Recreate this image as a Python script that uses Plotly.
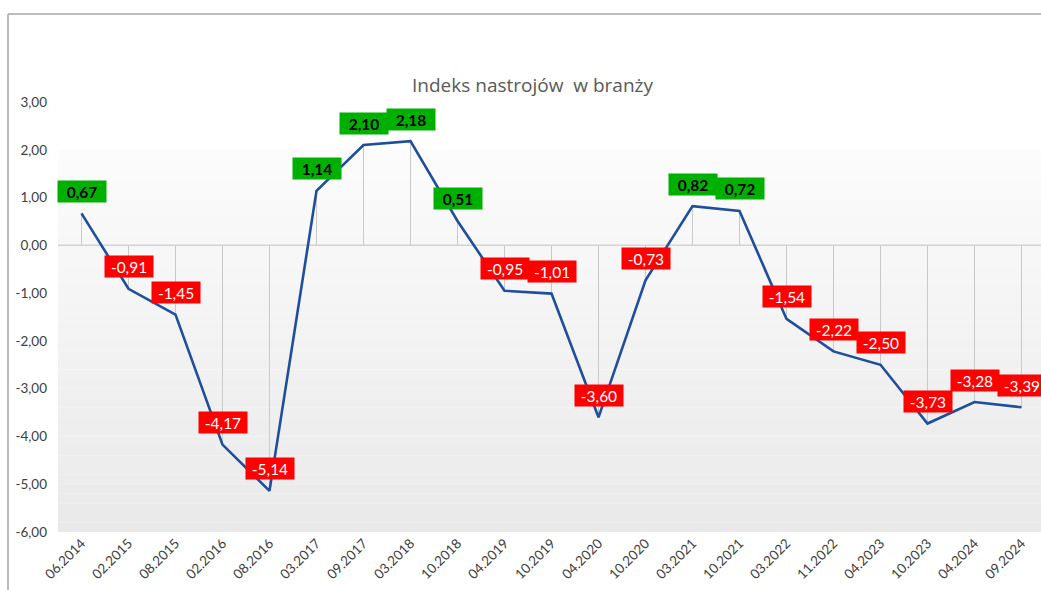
import plotly.graph_objects as go

categories = ["06.2014", "02.2015", "08.2015", "02.2016", "08.2016", "03.2017", "09.2017",
              "03.2018", "10.2018", "04.2019", "10.2019", "04.2020", "10.2020", "03.2021",
              "10.2021", "03.2022", "11.2022", "04.2023", "10.2023", "04.2024", "09.2024"]
values = [0.67, -0.91, -1.45, -4.17, -5.14, 1.14, 2.10, 2.18, 0.51, -0.95, -1.01, -3.60,
          -0.73, 0.82, 0.72, -1.54, -2.22, -2.50, -3.73, -3.28, -3.39]
y_ticks = [3, 2, 1, 0, -1, -2, -3, -4, -5, -6]
y_ticktext = ["3,00", "2,00", "1,00", "0,00", "-1,00", "-2,00", "-3,00", "-4,00", "-5,00", "-6,00"]
title_text = "Indeks nastrojów  w branży"

W, H = 1041, 590
ML, MR, MT, MB = 58, 0, 102, 58
plot_w = W - ML - MR
plot_h = H - MT - MB
step = 47.0
x_max = -0.5 + plot_w / step

fig = go.Figure()

# drop lines from each point to zero
dx, dy = [], []
for i, v in enumerate(values):
    dx += [i, i, None]
    dy += [0, v, None]
fig.add_trace(go.Scatter(x=dx, y=dy, mode="lines",
                         line=dict(color="#C9C9C9", width=1), hoverinfo="skip", showlegend=False))

fig.add_trace(go.Scatter(x=list(range(len(categories))), y=values, mode="lines",
                         line=dict(color="#1F4E9C", width=2.6), showlegend=False))

shapes = []
# gradient shading from 2 down to -6
n = 40
top, bot = 2.0, -6.0
c0, c1 = 252, 233
for i in range(n):
    y0 = top - (top - bot) * i / n
    y1 = top - (top - bot) * (i + 1) / n
    g = int(round(c0 + (c1 - c0) * (i + 0.5) / n))
    shapes.append(dict(type="rect", xref="paper", yref="y", x0=0, x1=1, y0=y1, y1=y0,
                       fillcolor=f"rgb({g},{g},{g})", line=dict(width=0), layer="below"))
# zero line
shapes.append(dict(type="line", xref="paper", yref="y", x0=0, x1=1, y0=0, y1=0,
                   line=dict(color="#D4D4D4", width=1.5), layer="below"))
# chart border (left and top)
bx = (8 - ML) / plot_w
by = (H - MB - 14) / plot_h
shapes.append(dict(type="line", xref="paper", yref="paper", x0=bx, x1=bx, y0=-0.2, y1=by,
                   line=dict(color="#A6A6A6", width=1.5)))
shapes.append(dict(type="line", xref="paper", yref="paper", x0=bx, x1=1.2, y0=by, y1=by,
                   line=dict(color="#A6A6A6", width=1.5)))

annotations = []
for i, v in enumerate(values):
    pos = v >= 0
    annotations.append(dict(
        x=i, y=v, xref="x", yref="y", text=f"{v:.2f}".replace(".", ","),
        showarrow=False, yshift=22, width=46, height=19, borderpad=1,
        bgcolor="#00B000" if pos else "#FF0000",
        font=dict(family="Lato", size=15.5, color="#000000" if pos else "#FFFFFF",
                  weight="bold" if pos else "normal"),
    ))
annotations.append(dict(x=(532 - ML) / plot_w, y=(H - MB - 70) / plot_h,
                        xref="paper", yref="paper", showarrow=False, text=title_text,
                        font=dict(family="Open Sans", size=19, color="#595959")))

fig.update_layout(
    width=W, height=H, margin=dict(l=ML, r=MR, t=MT, b=MB),
    paper_bgcolor="white", plot_bgcolor="rgba(0,0,0,0)",
    shapes=shapes, annotations=annotations,
    xaxis=dict(type="category", tickmode="array", tickvals=list(range(len(categories))),
               ticktext=categories, range=[-0.5, x_max], showgrid=False, zeroline=False,
               showline=False, ticks="", tickangle=-45,
               tickfont=dict(family="Lato", size=13.5, color="#404040")),
    yaxis=dict(range=[-6, 3], tickvals=y_ticks, ticktext=y_ticktext, showgrid=False,
               zeroline=False, showline=False, ticks="", ticklabelstandoff=10,
               tickfont=dict(family="Lato", size=13.5, color="#404040")),
    showlegend=False,
)

fig.write_html("out.html")
